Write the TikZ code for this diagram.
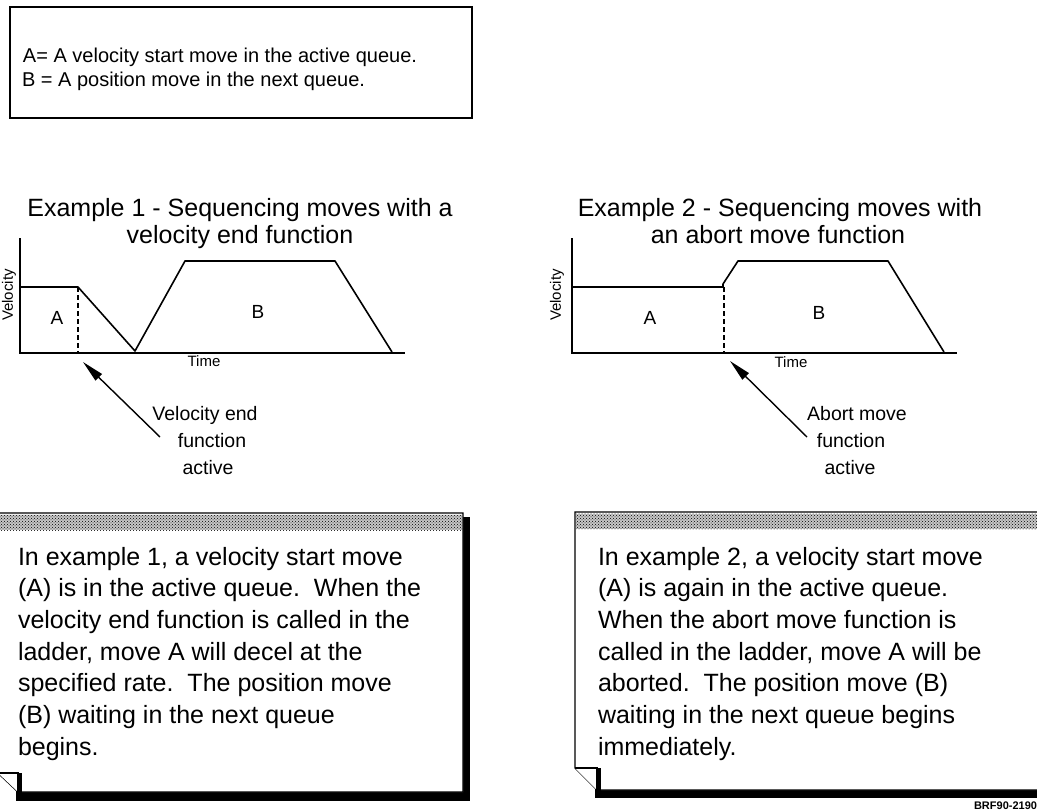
\documentclass[tikz,border=0pt]{standalone}
\usepackage{fontspec}
\setmainfont{Liberation Sans}
\usetikzlibrary{arrows.meta,patterns}
\begin{document}
\begin{tikzpicture}[x=1pt,y=-1pt,
  every node/.style={inner sep=0pt, outer sep=0pt},
  keytext/.style={font=\fontsize{20}{20}\selectfont, anchor=base west},
  titletext/.style={font=\fontsize{25}{25}\selectfont, anchor=base},
  notetext/.style={font=\fontsize{25}{25}\selectfont, anchor=base west},
  calltext/.style={font=\fontsize{19.5}{19.5}\selectfont, anchor=base},
  axislabel/.style={font=\fontsize{15}{15}\selectfont},
  arealabel/.style={font=\fontsize{19}{19}\selectfont},
  axisline/.style={line width=2.2pt},
  profile/.style={line width=1.6pt, line join=round},
  marker/.style={line width=1.6pt, dash pattern=on 5pt off 3pt},
  callout/.style={line width=1.4pt, -{Triangle[length=22pt,width=9pt,fill=black]}},
  frame/.style={line width=2pt},
  page/.style={line width=1.4pt, fill=white},
  shadowfill/.style={fill=black},
  band/.style={preaction={fill=black!22}, pattern=crosshatch dots, pattern color=black},
]
\useasboundingbox (0,0) rectangle (1037,811);
\fill[white] (0,0) rectangle (1037,811);

% key box
\draw[frame] (10,7) rectangle (472,118);
\node[keytext] (keyA) at (23,62) {A= A velocity start move in the active queue.};
\node[keytext] (keyB) at (22,86) {B = A position move in the next queue.};

% titles
\node[titletext] (t1a) at (240,216) {Example 1 - Sequencing moves with a};
\node[titletext] (t1b) at (240,243) {velocity end function};
\node[titletext] (t2a) at (780,216) {Example 2 - Sequencing moves with};
\node[titletext] (t2b) at (778,243) {an abort move function};

% chart 1
\draw[axisline] (20,238) -- (20,353) -- (405,353);
\draw[profile] (20,287) -- (78,287) -- (135,351) -- (185,261) -- (335,261) -- (392,352);
\draw[marker] (78,287) -- (78,353);
\node[arealabel] (a1) at (57,318) {A};
\node[arealabel] (b1) at (258,312) {B};
\node[axislabel, rotate=90] (v1) at (9,295) {Velocity};
\node[axislabel] (time1) at (204,361) {Time};
\coordinate (tip1) at (83,362);
\coordinate (tail1) at (160,437);
\draw[callout] (tail1) -- (tip1);
\node[calltext] (c1a) at (205,420) {Velocity end};
\node[calltext] (c1b) at (212,447) {function};
\node[calltext] (c1c) at (208,474) {active};

% chart 2
\draw[axisline] (572,238) -- (572,353) -- (957,353);
\draw[profile] (572,287) -- (723,287) -- (723,284) -- (738,261) -- (888,261) -- (944,352);
\draw[marker] (724,287) -- (724,353);
\node[arealabel] (a2) at (650,318) {A};
\node[arealabel] (b2) at (819,313) {B};
\node[axislabel, rotate=90] (v2) at (557,295) {Velocity};
\node[axislabel] (time2) at (791,362) {Time};
\coordinate (tip2) at (730,361);
\coordinate (tail2) at (807,437);
\draw[callout] (tail2) -- (tip2);
\node[calltext] (c2a) at (857,420) {Abort move};
\node[calltext] (c2b) at (851,447) {function};
\node[calltext] (c2c) at (850,474) {active};

% left note
\fill[shadowfill] (455,517) rectangle (470,801);
\fill[shadowfill] (16,790) rectangle (470,801);
\draw[page] (-2,513) -- (463,513) -- (463,792) -- (18,792) -- (-2,773) -- cycle;
\fill[band] (-2,514.5) rectangle (462,530);
\draw[page] (-2,773) -- (18,773) -- (18,792);
\fill[shadowfill] (17,773) rectangle (22,797);

\node[notetext] (n1l1) at (18,565) {In example 1, a velocity start move};
\node[notetext] (n1l2) at (18,596.7) {(A) is in the active queue.\ \ When the};
\node[notetext] (n1l3) at (18,628.4) {velocity end function is called in the};
\node[notetext] (n1l4) at (18,660.1) {ladder, move A will decel at the};
\node[notetext] (n1l5) at (18,691.8) {specified rate.\ \ The position move};
\node[notetext] (n1l6) at (18,723.5) {(B) waiting in the next queue};
\node[notetext] (n1l7) at (18,755.2) {begins.};

% right note
\fill[shadowfill] (595,788) rectangle (1045,798);
\draw[page] (575,512) -- (1045,512) -- (1045,790) -- (597,790) -- (575,768) -- cycle;
\fill[band] (576,513.5) rectangle (1045,529);
\draw[page] (575,768) -- (597,768) -- (597,790);
\fill[shadowfill] (596,768) rectangle (601,797);

\node[notetext] (n2l1) at (598,565) {In example 2, a velocity start move};
\node[notetext] (n2l2) at (598,596.7) {(A) is again in the active queue.};
\node[notetext] (n2l3) at (598,628.4) {When the abort move function is};
\node[notetext] (n2l4) at (598,660.1) {called in the ladder, move A will be};
\node[notetext] (n2l5) at (598,691.8) {aborted.\ \ The position move (B)};
\node[notetext] (n2l6) at (598,723.5) {waiting in the next queue begins};
\node[notetext] (n2l7) at (598,755.2) {immediately.};

\node[font=\bfseries\fontsize{11}{11}\selectfont, anchor=base east] (ref) at (1037,809) {BRF90-2190};
\end{tikzpicture}
\end{document}
